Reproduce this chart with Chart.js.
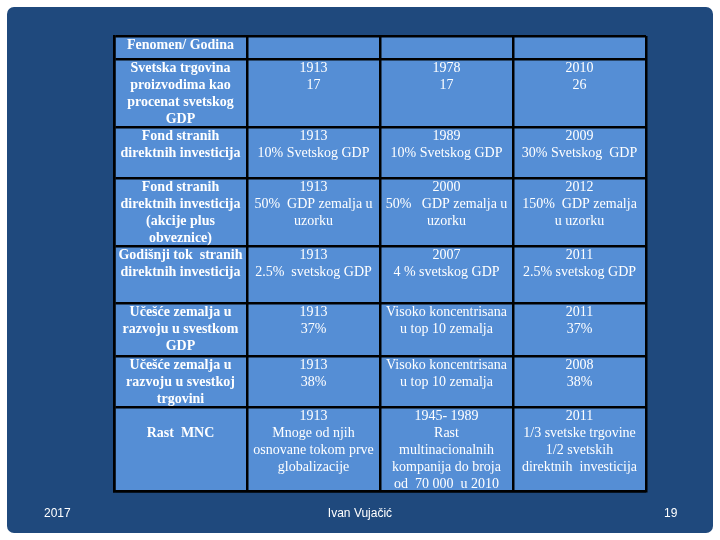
<!DOCTYPE html>
<html>
<head>
<meta charset="utf-8">
<script src="https://cdn.jsdelivr.net/npm/chart.js@4/dist/chart.umd.min.js"></script>
<style>
  html, body { margin: 0; padding: 0; background: #ffffff; }
  #slide { position: relative; width: 720px; height: 540px; overflow: hidden; }
  #frame { position: absolute; left: 7px; top: 7px; width: 706px; height: 526px;
           background: #1F497D; border-radius: 7px; }
  #chartBox { position: absolute; left: 0; top: 0; width: 720px; height: 540px; }
  .foot { position: absolute; top: 506px; color: #ffffff;
          font: 12px "Liberation Sans", Arial, sans-serif; white-space: nowrap; }
</style>
</head>
<body>
<div id="slide">
  <div id="frame"></div>
  <div id="chartBox"><canvas id="c" width="720" height="540"></canvas></div>
  <div class="foot" style="left:44px;">2017</div>
  <div class="foot" style="left:0; width:720px; text-align:center;">Ivan Vujačić</div>
  <div class="foot" style="left:664px;">19</div>
</div>
<script>
// ---- table content ----
const headerLabel = "Fenomen/ Godina";
const columnKeys = ["Fenomen", "Period 1", "Period 2", "Period 3"];
const phenomena = [
  "Svetska trgovina\nproizvodima kao\nprocenat svetskog\nGDP",
  "Fond stranih\ndirektnih investicija",
  "Fond stranih\ndirektnih investicija\n(akcije plus\nobveznice)",
  "Godišnji tok  stranih\ndirektnih investicija",
  "Učešće zemalja u\nrazvoju u svestkom\nGDP",
  "Učešće zemalja u\nrazvoju u svestkoj\ntrgovini",
  "\nRast  MNC"
];
const firstPeriod = [
  "1913\n17",
  "1913\n10% Svetskog GDP",
  "1913\n50%  GDP zemalja u\nuzorku",
  "1913\n2.5%  svetskog GDP",
  "1913\n37%",
  "1913\n38%",
  "1913\nMnoge od njih\nosnovane tokom prve\nglobalizacije"
];
const secondPeriod = [
  "1978\n17",
  "1989\n10% Svetskog GDP",
  "2000\n50%   GDP zemalja u\nuzorku",
  "2007\n4 % svetskog GDP",
  "Visoko koncentrisana\nu top 10 zemalja",
  "Visoko koncentrisana\nu top 10 zemalja",
  "1945- 1989\nRast\nmultinacionalnih\nkompanija do broja\nod  70 000  u 2010"
];
const thirdPeriod = [
  "2010\n26",
  "2009\n30% Svetskog  GDP",
  "2012\n150%  GDP zemalja\nu uzorku",
  "2011\n2.5% svetskog GDP",
  "2011\n37%",
  "2008\n38%",
  "2011\n1/3 svetske trgovine\n1/2 svetskih\ndirektnih  investicija"
];

// ---- layout (row heights in table units) ----
const rowSpan = [23, 68, 51, 68, 57, 53, 51, 84];

const rows = [[headerLabel, "", "", ""]].concat(
  phenomena.map((p, i) => [p, firstPeriod[i], secondPeriod[i], thirdPeriod[i]])
);
const edges = [0];
rowSpan.forEach(h => edges.push(edges[edges.length - 1] + h));
const total = edges[edges.length - 1];

const CELL = '#558ED5';
const datasets = rows.map((r, ri) => ({
  label: 'row' + ri,
  data: columnKeys.map(() => [edges[ri], edges[ri + 1]]),
  backgroundColor: CELL,
  borderWidth: 0,
  grouped: false,
  barPercentage: 1,
  categoryPercentage: 1
}));

const cellText = {
  id: 'cellText',
  afterDraw(chart) {
    const { ctx, scales: { x, y } } = chart;
    ctx.save();
    ctx.fillStyle = '#ffffff';
    ctx.textAlign = 'center';
    ctx.textBaseline = 'middle';
    rows.forEach((r, ri) => {
      const top = y.getPixelForValue(edges[ri]);
      r.forEach((txt, ci) => {
        if (!txt) return;
        ctx.font = (ci === 0 ? 'bold ' : '') + '14px "Liberation Serif", "Times New Roman", serif';
        const cx = x.getPixelForValue(ci);
        txt.split('\n').forEach((line, li) => {
          ctx.fillText(line, cx, top + 9 + li * 17.1);
        });
      });
    });
    ctx.restore();
  }
};

new Chart(document.getElementById('c'), {
  type: 'bar',
  data: { labels: columnKeys, datasets },
  options: {
    responsive: false,
    animation: false,
    layout: { padding: { left: 114, right: 74, top: 36, bottom: 49 } },
    plugins: { legend: { display: false }, tooltip: { enabled: false }, title: { display: false } },
    scales: {
      x: {
        type: 'category',
        offset: true,
        grid: { offset: true, color: '#000000', lineWidth: 2.5, drawTicks: false, z: 1 },
        border: { display: true, color: '#000000', width: 2.5, z: 1 },
        ticks: { display: false }
      },
      y: {
        type: 'linear',
        reverse: true,
        min: 0,
        max: total,
        afterBuildTicks: s => { s.ticks = edges.map(v => ({ value: v })); },
        grid: { color: '#000000', lineWidth: 2.5, drawTicks: false, z: 1 },
        border: { display: true, color: '#000000', width: 2.5, z: 1 },
        ticks: { display: false }
      }
    }
  },
  plugins: [cellText]
});
</script>
</body>
</html>
